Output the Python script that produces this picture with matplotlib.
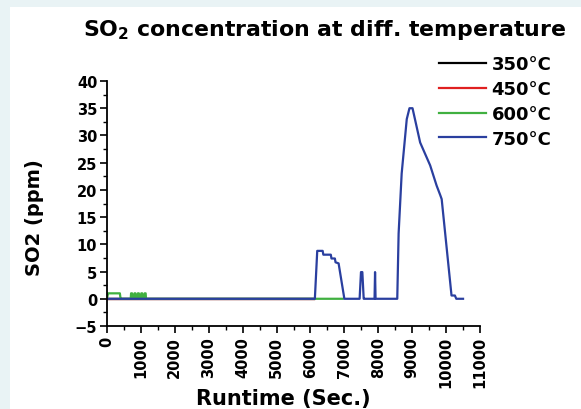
import matplotlib
matplotlib.use("Agg")
import matplotlib.pyplot as plt
from matplotlib.ticker import MultipleLocator, AutoMinorLocator
from matplotlib.patches import Rectangle

plt.rcParams['font.family'] = ['DejaVu Sans']
plt.rcParams['mathtext.fontset'] = 'dejavusans'
plt.rcParams['mathtext.default'] = 'bf'

labels = ["350°C", "450°C", "600°C", "750°C"]
colors = ["#000000", "#e02020", "#40b040", "#2a3f9f"]

t350 = [0, 6100]
c350 = [0, 0]
t450 = [0, 6100]
c450 = [0, 0]
t600 = [0, 30, 60, 380, 400, 420, 700, 710, 740, 750, 800, 810, 840, 850, 900, 910, 940, 950,
        1000, 1010, 1040, 1050, 1100, 1110, 1140, 1150, 6100, 6950]
c600 = [0, 1, 1, 1, 0, 0, 0, 1, 1, 0, 0, 1, 1, 0, 0, 1, 1, 0,
        0, 1, 1, 0, 0, 1, 1, 0, 0, 0]
t750 = [0, 6130, 6200, 6230, 6360, 6380, 6600, 6620, 6720, 6740, 6830, 7000, 7450, 7490, 7530,
        7570, 7610, 7890, 7905, 7920, 8560, 8600, 8690, 8840, 8920, 9010, 9235, 9530,
        9720, 9830, 9870, 10160, 10260, 10300, 10500]
c750 = [0, 0, 8.8, 8.8, 8.8, 8.1, 8.1, 7.4, 7.4, 6.7, 6.5, 0, 0, 4.9, 4.9,
        0, 0, 0, 4.9, 0, 0, 12, 23, 33, 35, 35, 28.7, 24.5,
        20.8, 19, 18.3, 0.6, 0.6, 0, 0]

fig = plt.figure(figsize=(5.81, 4.10), dpi=100)
fig.patch.set_facecolor("#e9f3f5")
fig.patches.append(Rectangle((10 / 581, 0), 1, 1 - 8 / 410, transform=fig.transFigure,
                             facecolor="white", edgecolor="none", zorder=-10))

ax = fig.add_axes([107 / 581, 1 - 327 / 410, (480 - 107) / 581, (327 - 82) / 410])
ax.set_facecolor("none")
ax.set_zorder(5)

series = [(t350, c350), (t450, c450), (t600, c600), (t750, c750)]
for (t, c), lab, col in zip(series, labels, colors):
    ax.plot(t, c, color=col, lw=1.6, label=lab)

ax.set_xlim(0, 11000)
ax.set_ylim(-5, 40)
ax.xaxis.set_major_locator(MultipleLocator(1000))
ax.xaxis.set_minor_locator(AutoMinorLocator(2))
ax.yaxis.set_major_locator(MultipleLocator(5))
ax.yaxis.set_minor_locator(AutoMinorLocator(2))
for s in ["top", "right"]:
    ax.spines[s].set_visible(False)
for s in ["left", "bottom"]:
    ax.spines[s].set_linewidth(1.3)
ax.tick_params(which="major", length=5, width=1.2, labelsize=10.5)
ax.tick_params(which="minor", length=3, width=1.0)
for lbl in ax.get_xticklabels():
    lbl.set_rotation(90)
    lbl.set_fontweight("bold")
for lbl in ax.get_yticklabels():
    lbl.set_fontweight("bold")
ax.tick_params(axis="y", pad=2)
ax.tick_params(axis="x", pad=2)

ax.set_xlabel("Runtime (Sec.)", fontsize=15, fontweight="bold", va="center")
ax.xaxis.set_label_coords((283 - 107) / 373, (327 - 399) / 245)
ax.set_ylabel("SO2 (ppm)", fontsize=14, fontweight="bold", va="center")
ax.yaxis.set_label_coords((35 - 107) / 373, (327 - 218) / 245)

fig.text(324 / 581, 1 - 30 / 410, r"SO$_2$ concentration at diff. temperature",
         ha="center", va="center", fontsize=15.8, fontweight="bold")

leg = fig.legend(loc="upper left", bbox_to_anchor=(432 / 581, 1 - 49 / 410), frameon=False,
                 prop={"weight": "bold", "size": 13}, handlelength=2.6, labelspacing=0.38,
                 handletextpad=0.3, borderaxespad=0)

fig.savefig("out.png", dpi=100, facecolor=fig.get_facecolor())
